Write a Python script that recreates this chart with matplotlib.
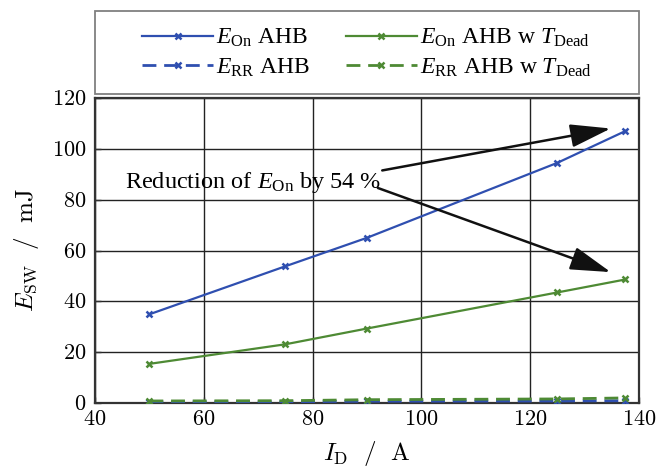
import matplotlib
matplotlib.use("Agg")
import matplotlib.pyplot as plt
from matplotlib.patches import Rectangle
from matplotlib.lines import Line2D

plt.rcParams['mathtext.fontset'] = 'custom'
plt.rcParams['mathtext.rm'] = 'Liberation Serif'
plt.rcParams['mathtext.it'] = 'Liberation Serif:italic'
plt.rcParams['font.family'] = ['Liberation Serif', 'DejaVu Serif']

# Drain current operating points (A)
current = [50, 75, 90, 125, 137.5]
# Switching energies (mJ)
e_on_ahb = [34.9, 53.8, 65.0, 94.5, 107.0]
e_on_ahb_dead = [15.4, 23.1, 29.3, 43.5, 48.6]
e_rr_ahb = [0.4, 0.5, 0.7, 0.8, 0.9]
e_rr_ahb_dead = [0.8, 0.9, 1.3, 1.6, 2.0]

x_ticks = [40, 60, 80, 100, 120, 140]
y_ticks = [0, 20, 40, 60, 80, 100, 120]

blue = '#2f4fb0'
green = '#4e8a34'

fig = plt.figure(figsize=(6.68, 4.70), dpi=100)
ax = fig.add_axes([95 / 668, 1 - 403 / 470, 544 / 668, 305 / 470])

mk = dict(marker='x', markersize=4.5, markeredgewidth=1.8)
ax.plot(current, e_on_ahb, color=blue, lw=1.6, ls='-', **mk, zorder=4)
ax.plot(current, e_on_ahb_dead, color=green, lw=1.6, ls='-', **mk, zorder=4)
ax.plot(current, e_rr_ahb, color=blue, lw=2.0, ls=(0, (5, 2.8)), **mk, zorder=3)
ax.plot(current, e_rr_ahb_dead, color=green, lw=2.0, ls=(0, (5, 2.8)), **mk, zorder=3)

ax.set_xlim(40, 140)
ax.set_ylim(0, 120)
ax.set_xticks(x_ticks)
ax.set_yticks(y_ticks)
ax.set_xticklabels([f'${v}$' for v in x_ticks], math_fontfamily='cm', fontsize=16)
ax.set_yticklabels([f'${v}$' for v in y_ticks], math_fontfamily='cm', fontsize=16)
ax.tick_params(direction='in', length=4, width=1, color='#333333', pad=6)
ax.grid(True, color='#222222', lw=1.0)
ax.set_axisbelow(True)
for s in ax.spines.values():
    s.set_color('#333333')
    s.set_linewidth(1.6)

ax.set_xlabel(r'$I_\mathrm{D}\ \ /\ \ \mathrm{A}$', math_fontfamily='cm',
              fontsize=18, labelpad=6)
ax.set_ylabel(r'$E_\mathrm{SW}\ \ /\ \ \mathrm{mJ}$', math_fontfamily='cm',
              fontsize=18, labelpad=8)

# Annotation with two arrows pointing at the last points
ax.text(45.5, 86.7, r'Reduction of $E_\mathrm{On}$ by 54 %', fontsize=17.5,
        va='center', ha='left', zorder=6)
arrow_kw = dict(arrowstyle='-|>,head_length=1.25,head_width=0.36', color='#111111',
                lw=1.8, shrinkA=0, shrinkB=0, mutation_scale=20)
ax.annotate('', xy=(134.8, 108.0), xytext=(92.8, 91.5),
            arrowprops=arrow_kw, zorder=6)
ax.annotate('', xy=(134.8, 51.5), xytext=(92.0, 84.6),
            arrowprops=arrow_kw, zorder=6)

# Legend above the axes inside its own frame
handles = [
    Line2D([], [], color=blue, lw=1.6, ls='-', **mk),
    Line2D([], [], color=blue, lw=2.0, ls=(0, (5, 2.8)), **mk),
    Line2D([], [], color=green, lw=1.6, ls='-', **mk),
    Line2D([], [], color=green, lw=2.0, ls=(0, (5, 2.8)), **mk),
]
labels = [
    r'$E_\mathrm{On}$ AHB',
    r'$E_\mathrm{RR}$ AHB',
    r'$E_\mathrm{On}$ AHB w $T_\mathrm{Dead}$',
    r'$E_\mathrm{RR}$ AHB w $T_\mathrm{Dead}$',
]
frame = Rectangle((95 / 668, 1 - 94 / 470), 544 / 668, 83 / 470,
                  transform=fig.transFigure, fill=False, edgecolor='#808080',
                  lw=1.3)
fig.add_artist(frame)
fig.legend(handles, labels, ncol=2, loc='center', fontsize=17,
           bbox_to_anchor=(367 / 668, 1 - 53 / 470), frameon=False,
           handlelength=3.0, handletextpad=0.15, columnspacing=1.5,
           labelspacing=0.3)

fig.savefig('out.png', dpi=100)
